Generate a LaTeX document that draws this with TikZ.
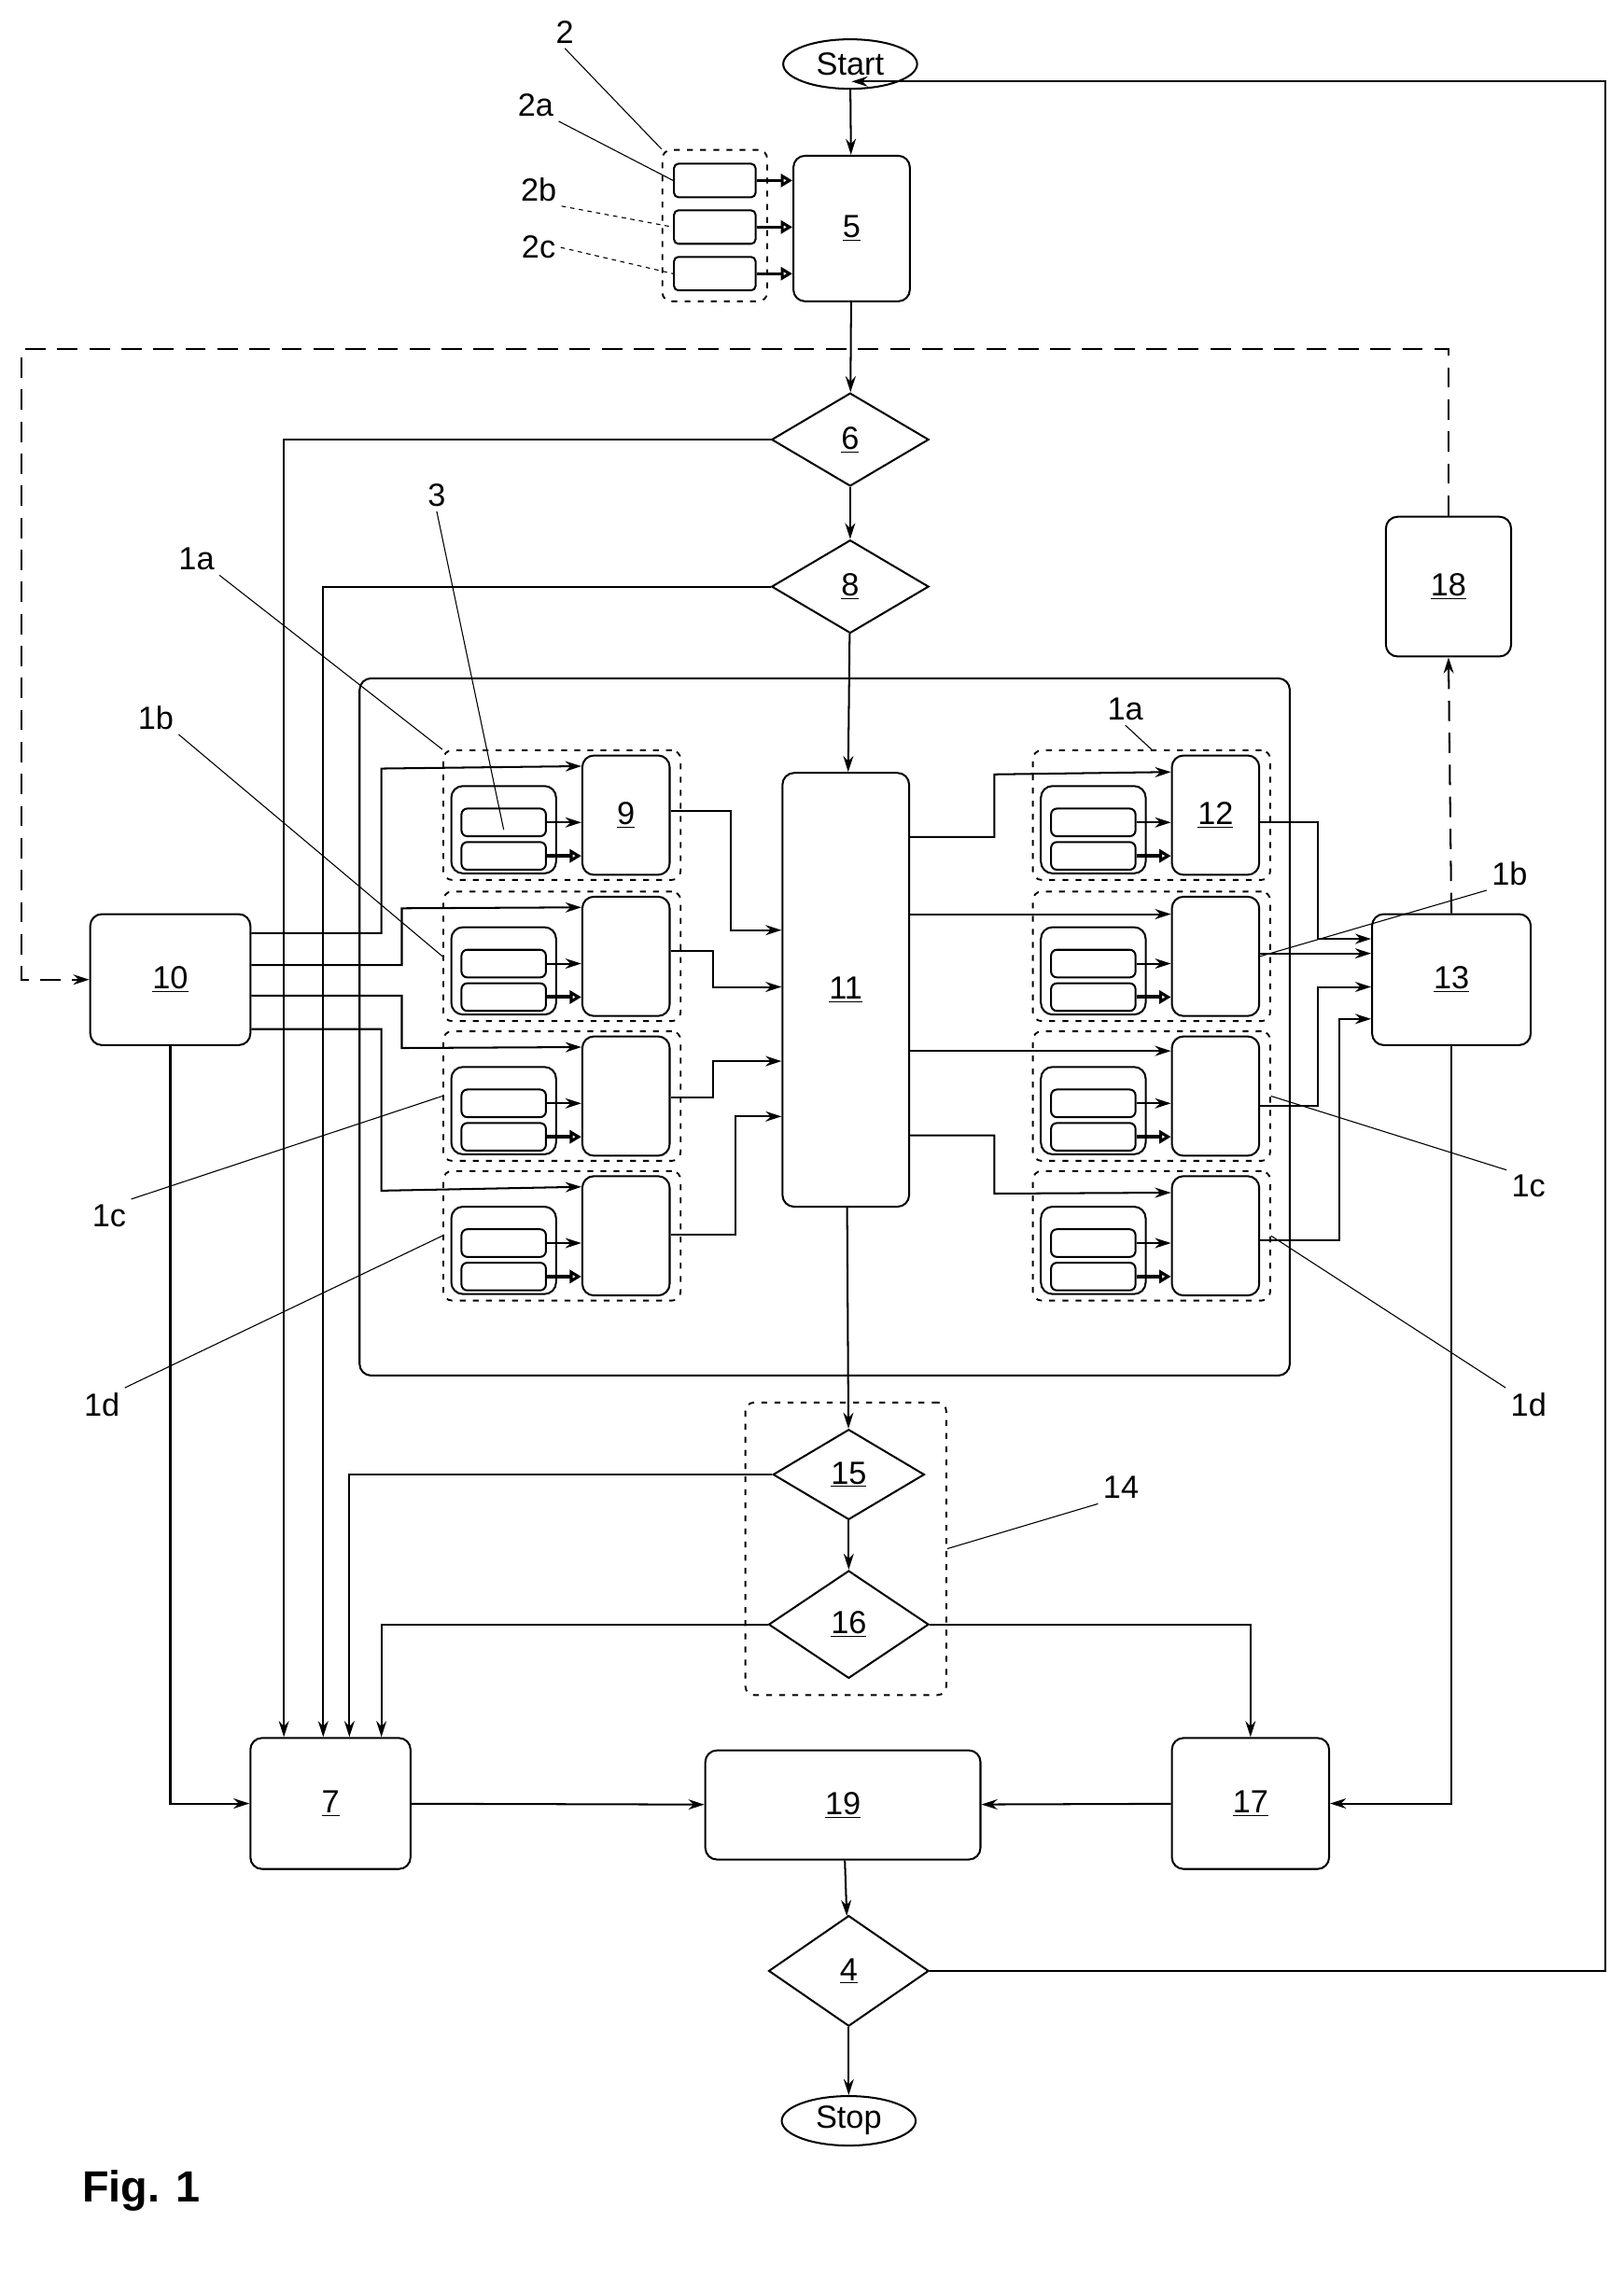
\documentclass[tikz,border=0pt]{standalone}
\usepackage{fontspec}
\setmainfont{Liberation Sans}
\usepackage{tikz}
\usetikzlibrary{shapes.geometric,arrows.meta,positioning,calc}

\begin{document}
\begin{tikzpicture}[
    x=1pt, y=-1pt,
    every node/.style={font=\fontsize{22}{26}\selectfont},
    blk/.style={rectangle, draw, line width=1.3pt, rounded corners=8pt, inner sep=0pt},
    dia/.style={diamond, draw, line width=1.3pt, inner sep=0pt, aspect=1.7},
    term/.style={ellipse, draw, line width=1.3pt, minimum width=92pt, minimum height=34pt, inner sep=0pt},
    grp/.style={draw, line width=1.2pt, dash pattern=on 4pt off 5pt, rounded corners=6pt},
    bar/.style={rectangle, draw, line width=1.3pt, rounded corners=4pt, minimum width=58pt, minimum height=19pt},
    arrow/.style={->, line width=1.3pt, >={Stealth[length=11pt,width=7pt]}},
    dbl/.style={-{Triangle[open,length=8pt,width=9pt]}, line width=2.5pt},
    dsh/.style={line width=1.3pt, dash pattern=on 14pt off 8pt},
    lead/.style={line width=0.7pt}
]
\useasboundingbox (0,0) rectangle (1115,1565);

% Start, sensors and block 5
\node[term] (start) at (584,44) {Start};
\node[blk, minimum width=80pt, minimum height=100pt] (b5) at (585,157) {\underline{5}};
\node[grp, minimum width=72pt, minimum height=104pt] (g2) at (491,155) {};
\foreach \nm/\yy in {2a/124, 2b/156, 2c/188} {
    \node[blk, rounded corners=3pt, minimum width=56pt, minimum height=23pt] (s\nm) at (491,\yy) {};
    \draw[dbl, line width=2pt] (s\nm.east) -- (s\nm.east -| b5.west);
}
\node (l2) at (388,22) {2};
\node (l2a) at (368,72) {2a};
\node (l2b) at (370,130) {2b};
\node (l2c) at (370,170) {2c};
\draw[lead] (l2.south) -- (g2.north west);
\draw[lead] (l2a.south east) -- (s2a.west);
\draw[lead, dashed] (l2b.south east) -- (s2b.west);
\draw[lead, dashed] (l2c.east) -- (s2c.west);

% Decisions
\node[dia, minimum width=108pt, minimum height=64pt] (d6) at (584,302) {\underline{6}};
\node[dia, minimum width=108pt, minimum height=64pt] (d8) at (584,403) {\underline{8}};

% Frame and central blocks
\draw[line width=1.3pt, rounded corners=8pt] (247,466) rectangle (886,945);
\node[blk, minimum width=87pt, minimum height=298pt] (b11) at (581,680) {\underline{11}};
\node[blk, minimum width=110pt, minimum height=90pt] (b10) at (117,673) {\underline{10}};
\node[blk, minimum width=109pt, minimum height=90pt] (b13) at (997,673) {\underline{13}};
\node[blk, minimum width=86pt, minimum height=96pt] (b18) at (995,403) {\underline{18}};

% Modules, left (L) and right (R)
\foreach \s/\gx/\cx/\bx in {L/386/346/430, R/791/751/835} {
    \foreach \r/\yy in {a/560, b/657, c/753, d/849} {
        \node[grp, minimum width=163pt, minimum height=89pt] (m\s\r) at (\gx,\yy) {};
        \node[blk, minimum width=60pt, minimum height=82pt] (k\s\r) at (\bx,\yy) {};
        \node[blk, minimum width=72pt, minimum height=60pt] (c\s\r) at (\cx,\yy+10) {};
        \node[bar] (u\s\r) at (\cx,\yy+5) {};
        \node[bar] (v\s\r) at (\cx,\yy+28) {};
        \draw[arrow] (u\s\r.east) -- (u\s\r.east -| k\s\r.west);
        \draw[dbl] (v\s\r.east) -- (v\s\r.east -| k\s\r.west);
    }
}
\node at (kLa) {\underline{9}};
\node at (kRa) {\underline{12}};

% Lower part
\node[grp, minimum width=138pt, minimum height=201pt] (g14) at (581,1064) {};
\node[dia, minimum width=104pt, minimum height=62pt] (d15) at (583,1013) {\underline{15}};
\node[dia, minimum width=110pt, minimum height=74pt] (d16) at (583,1116) {\underline{16}};
\node[blk, minimum width=110pt, minimum height=90pt] (b7) at (227,1239) {\underline{7}};
\node[blk, minimum width=189pt, minimum height=75pt] (b19) at (579,1240) {\underline{19}};
\node[blk, minimum width=108pt, minimum height=90pt] (b17) at (859,1239) {\underline{17}};
\node[dia, minimum width=110pt, minimum height=76pt] (d4) at (583,1354) {\underline{4}};
\node[term] (stop) at (583,1457) {Stop};

% Labels
\node (l3) at (300,340) {3};
\node (lLa) at (135,384) {1a};
\node (lLb) at (107,493) {1b};
\node (lLc) at (75,835) {1c};
\node (lLd) at (70,965) {1d};
\node (lRa) at (773,487) {1a};
\node (lRb) at (1037,600) {1b};
\node (lRc) at (1050,815) {1c};
\node (lRd) at (1050,965) {1d};
\node (l14) at (770,1022) {14};
\draw[lead] (l3.south) -- (cLa.center);
\draw[lead] (lLa.south east) -- (mLa.north west);
\draw[lead] (lLb.south east) -- (mLb.west);
\draw[lead] (lLc.north east) -- (mLc.west);
\draw[lead] (lLd.north east) -- (mLd.west);
\draw[lead] (lRa.south) -- (mRa.north);
\draw[lead] (lRb.south west) -- (kRb.east);
\draw[lead] (lRc.north west) -- (mRc.east);
\draw[lead] (lRd.north west) -- (mRd.east);
\draw[lead] (l14.south west) -- (g14.east);

% Main flow
\coordinate (cTop) at (1103,56);
\draw[arrow] (start) -- (b5);
\draw[arrow] (d4.east) -| (cTop) -- (b5.north |- cTop);
\draw[arrow] (b5) -- (d6);
\draw[arrow] (d6) -- (d8);
\draw[arrow] (d8) -- (b11);
\draw[arrow] (b11) -- (d15);
\draw[arrow] (d15) -- (d16);
\draw[arrow] (d6.west) -| ([xshift=-32pt]b7.north);
\draw[arrow] (d8.west) -| ([xshift=-5pt]b7.north);
\draw[arrow] (d15.west) -| ([xshift=13pt]b7.north);
\draw[arrow] (d16.west) -| ([xshift=35pt]b7.north);
\draw[arrow] (d16.east) -| (b17.north);
\draw[arrow] (b10.south) |- (b7.west);
\draw[arrow] (b13.south) |- (b17.east);
\draw[arrow] (b7) -- (b19);
\draw[arrow] (b17) -- (b19);
\draw[arrow] (b19) -- (d4);
\draw[arrow] (d4) -- (stop);

% Dashed feedback
\coordinate (cL) at (15,240);
\draw[dsh, ->, >={Stealth[length=11pt,width=7pt]}] (b13.north) -- (b18.south);
\draw[dsh, ->, >={Stealth[length=11pt,width=7pt]}] (b18.north) |- (cL) |- (b10.west);

% 10 to left modules
\draw[arrow] ([yshift=32pt]b10.east) -| (262,528) -- ([yshift=-8pt]kLa.north west);
\draw[arrow] ([yshift=10pt]b10.east) -| (276,624) -- ([yshift=-8pt]kLb.north west);
\draw[arrow] ([yshift=-11pt]b10.east) -| (276,720) -- ([yshift=-8pt]kLc.north west);
\draw[arrow] ([yshift=-34pt]b10.east) -| (262,818) -- ([yshift=-8pt]kLd.north west);

% left modules to 11
\draw[arrow] ([yshift=3pt]kLa.east) -| (502,639) -- (502,639 -| b11.west);
\draw[arrow] ([yshift=4pt]kLb.east) -| (490,678) -- (490,678 -| b11.west);
\draw[arrow] ([yshift=-1pt]kLc.east) -| (490,729) -- (490,729 -| b11.west);
\draw[arrow] ([yshift=1pt]kLd.east) -| (505,767) -- (505,767 -| b11.west);

% 11 to right modules
\draw[arrow] (b11.east |- 0,575) -| (683,532) -- ([yshift=-12pt]kRa.north west);
\draw[arrow] (b11.east |- 0,628) -- (kRb.west |- 0,628);
\draw[arrow] (b11.east |- 0,722) -- (kRc.west |- 0,722);
\draw[arrow] (b11.east |- 0,780) -| (683,820) -- ([yshift=-12pt]kRd.north west);

% right modules to 13
\draw[arrow] ([yshift=-5pt]kRa.east) -| (905,645) -- (b13.west |- 0,645);
\draw[arrow] ([yshift=2pt]kRb.east) -- (b13.west |- 0,655);
\draw[arrow] ([yshift=-7pt]kRc.east) -| (905,678) -- (b13.west |- 0,678);
\draw[arrow] ([yshift=-3pt]kRd.east) -| (920,700) -- (b13.west |- 0,700);

% Caption
\node[font=\fontsize{30}{34}\selectfont\bfseries] (fig) at (97,1505) {Fig. 1};
\end{tikzpicture}
\end{document}
